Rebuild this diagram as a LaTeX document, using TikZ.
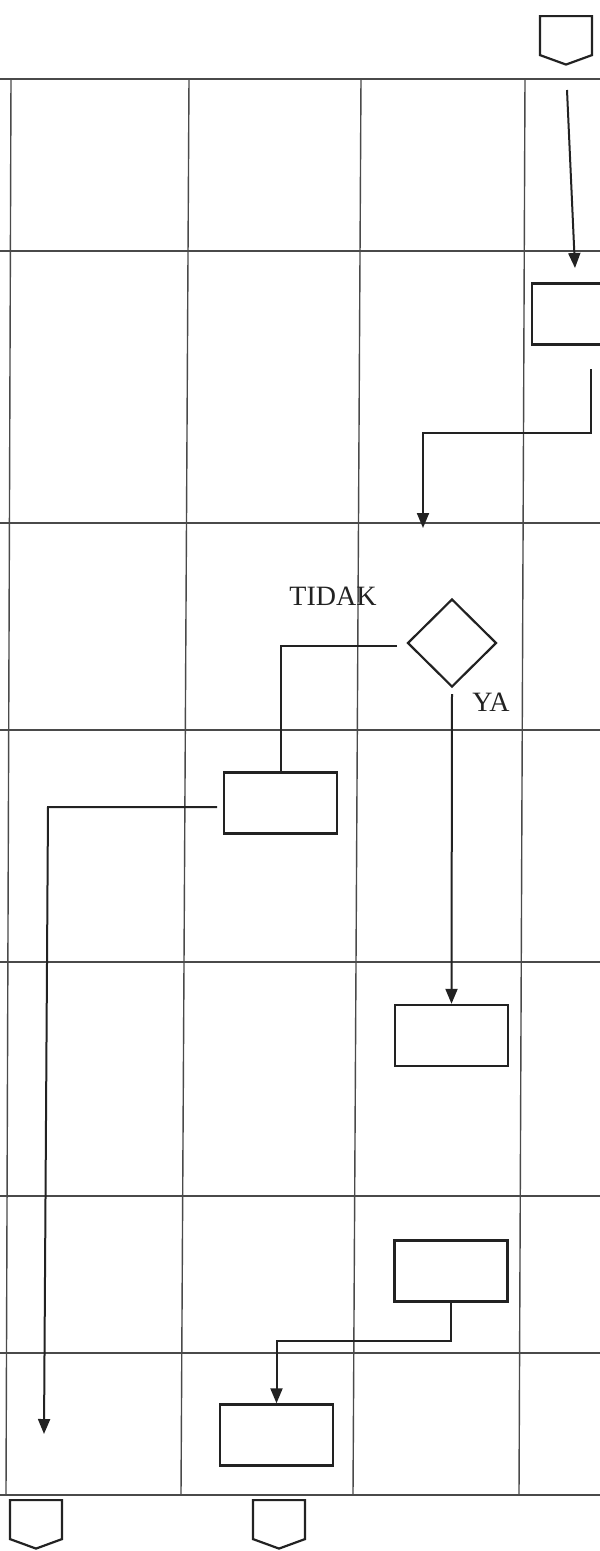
\documentclass[tikz,border=0pt]{standalone}
\usepackage{fontspec}
\setmainfont{Liberation Serif}
\usepackage{tikz}
\usetikzlibrary{arrows.meta, shapes.geometric, shapes.symbols}
\definecolor{gridgray}{HTML}{4A4A4A}
\definecolor{inkdark}{HTML}{222222}

\begin{document}
\begin{tikzpicture}[
  x=1pt, y=-1pt,
  grid/.style={gridgray, line width=1.4pt},
  box/.style={rectangle, draw=inkdark, line width=2.4pt, minimum width=113pt,
    minimum height=61pt, inner sep=0pt},
  decision/.style={diamond, draw=inkdark, line width=2.2pt, minimum width=89pt,
    minimum height=88pt, inner sep=0pt},
  offpage/.style={signal, signal to=south, signal pointer angle=140, draw=inkdark,
    line width=2.2pt, minimum width=52pt, minimum height=39pt, inner sep=0pt},
  arr/.style={-{Triangle[length=15pt, width=12pt]}, line width=2pt, inkdark},
  line/.style={line width=2pt, inkdark},
  lbl/.style={font=\fontsize{28}{32}\selectfont, text=inkdark, inner sep=0pt},
]
  \useasboundingbox (0,0) rectangle (600,1551);
  \clip (0,0) rectangle (600,1551);

  % swimlane grid
  \foreach \y in {79,251,523,730,962,1196,1353,1495}
    \draw[grid] (0,\y) -- (600,\y);
  \foreach \xa/\xb in {11/6, 189/181, 361/353, 525/519}
    \draw[grid] (\xa,79) -- (\xb,1495);

  % shapes
  \node[offpage, anchor=north] (start) at (566,15) {};
  \node[box] (recv) at (588.5,314) {};
  \node[decision] (check) at (452,643) {};
  \node[box] (tidak) at (280.5,803) {};
  \node[box] (ya) at (451.5,1035.5) {};
  \node[box] (proc) at (451,1271) {};
  \node[box] (final) at (276.5,1435) {};
  \node[offpage, anchor=north] (endA) at (36,1499) {};
  \node[offpage, anchor=north] (endB) at (279,1499) {};

  \node[lbl] (ltidak) at (333,596) {TIDAK};
  \node[lbl] (lya) at (491,702) {YA};

  % free ends of the connectors
  \coordinate (s1) at (567,90);
  \coordinate (e1) at (575,268);
  \coordinate (s2) at (591,369);
  \coordinate (e2) at (423,528);
  \coordinate (s3) at (397,646);
  \coordinate (s4) at (217,807);
  \coordinate (k4) at (48,807);
  \coordinate (e4) at (44,1434);

  % connectors
  \draw[arr] (s1) -- (e1);
  \draw[arr] (s2) -- ++(0,64) -| (e2);
  \draw[line] (s3) -| (tidak.north);
  \draw[arr] ([yshift=-6pt]check.south) -- (ya.north);
  \draw[arr] (s4) -- (k4) -- (e4);
  \draw[arr] (proc.south) -- ++(0,38) -| (final.north);
\end{tikzpicture}
\end{document}
